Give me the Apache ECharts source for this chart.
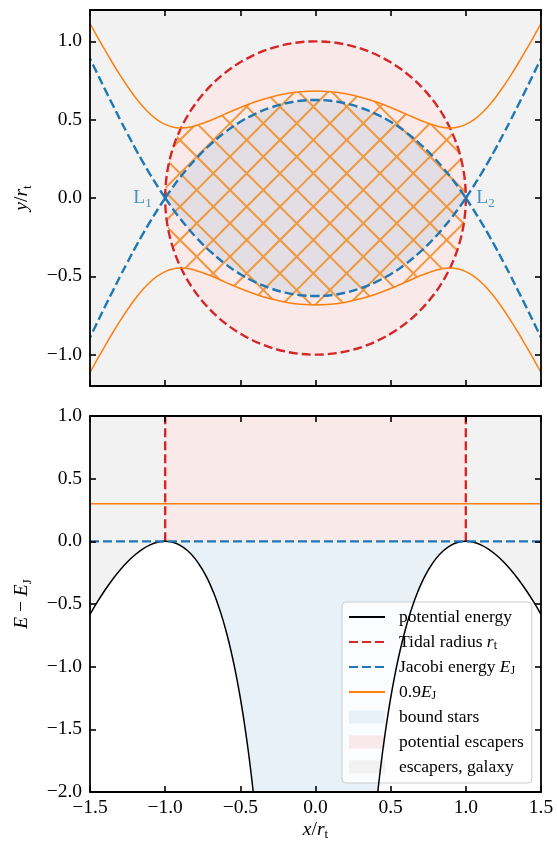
<!DOCTYPE html>
<html><head><meta charset="utf-8">
<script src="https://cdn.jsdelivr.net/npm/echarts@6/dist/echarts.min.js"></script>
<style>html,body{margin:0;padding:0;background:#fff}#c{width:557px;height:846px}</style>
</head><body><div id="c"></div>
<script>
// ---------------- data ----------------
const xTicks = [-1.5, -1.0, -0.5, 0.0, 0.5, 1.0, 1.5];
const yTicksTop = [-1.0, -0.5, 0.0, 0.5, 1.0];
const yTicksBottom = [-2.0, -1.5, -1.0, -0.5, 0.0, 0.5, 1.0];
const topRange = [-1.2, 1.2];
const bottomRange = [-2.0, 1.0];
const xRange = [-1.5, 1.5];

const tidalCenter = [0, 0];
const tidalRadius = 1.0;
const lagrangeX = [-1.0, 1.0];
const lagrangeY = [0.0, 0.0];
const lagrangeNames = ['1', '2'];
const jacobiLevel = 0.0;     // E - E_J at Jacobi energy
const level09 = 0.3;         // E - E_J at 0.9 E_J

// 0.9 E_J zero-velocity curve (top panel)
const orangeX = [-1.5,-1.45,-1.4,-1.35,-1.3,-1.25,-1.2,-1.15,-1.1,-1.05,-1.0,-0.95,-0.9,-0.85,-0.8,-0.7,-0.6,-0.5,-0.4,-0.3,-0.2,-0.1,0.0,
                 0.1,0.2,0.3,0.4,0.5,0.6,0.7,0.8,0.85,0.9,0.95,1.0,1.05,1.1,1.15,1.2,1.25,1.3,1.35,1.4,1.45,1.5];
const orangeUpperY = [1.1139,1.0275,0.9432,0.8617,0.784,0.7114,0.645,0.5863,0.5366,0.4976,0.4696,0.4531,0.4473,0.4505,0.4609,0.4951,0.5369,0.578,0.6143,0.6436,0.6648,0.6776,0.6822,
                      0.6776,0.6648,0.6436,0.6143,0.578,0.5369,0.4951,0.4609,0.4505,0.4473,0.4531,0.4696,0.4976,0.5366,0.5863,0.645,0.7114,0.784,0.8617,0.9432,1.0275,1.1139];
const orangeLowerY = [-1.1139,-1.0275,-0.9432,-0.8617,-0.784,-0.7114,-0.645,-0.5863,-0.5366,-0.4976,-0.4696,-0.4531,-0.4473,-0.4505,-0.4609,-0.4951,-0.5369,-0.578,-0.6143,-0.6436,-0.6648,-0.6776,-0.6822,
                      -0.6776,-0.6648,-0.6436,-0.6143,-0.578,-0.5369,-0.4951,-0.4609,-0.4505,-0.4473,-0.4531,-0.4696,-0.4976,-0.5366,-0.5863,-0.645,-0.7114,-0.784,-0.8617,-0.9432,-1.0275,-1.1139];

// Jacobi energy contour: inner oval
const jacobiInnerX = [-1.0,-0.95,-0.9,-0.85,-0.8,-0.75,-0.7,-0.6,-0.5,-0.4,-0.3,-0.2,-0.1,0.0,0.1,0.2,0.3,0.4,0.5,0.6,0.7,0.75,0.8,0.85,0.9,0.95,1.0];
const jacobiInnerUpperY = [0,0.0685,0.1325,0.1906,0.2455,0.2955,0.3413,0.421,0.4862,0.5375,0.5765,0.6042,0.6205,0.6258,0.6205,0.6042,0.5765,0.5375,0.4862,0.421,0.3413,0.2955,0.2455,0.1906,0.1325,0.0685,0];
const jacobiInnerLowerY = [0,-0.0685,-0.1325,-0.1906,-0.2455,-0.2955,-0.3413,-0.421,-0.4862,-0.5375,-0.5765,-0.6042,-0.6205,-0.6258,-0.6205,-0.6042,-0.5765,-0.5375,-0.4862,-0.421,-0.3413,-0.2955,-0.2455,-0.1906,-0.1325,-0.0685,0];
// Jacobi energy contour: outer branches
const jacobiOuterRightX = [1.0,1.05,1.1,1.15,1.2,1.25,1.3,1.35,1.4,1.45,1.5];
const jacobiOuterLeftX = [-1.0,-1.05,-1.1,-1.15,-1.2,-1.25,-1.3,-1.35,-1.4,-1.45,-1.5];
const jacobiOuterUpperY = [0,0.0735,0.1508,0.2325,0.3186,0.4087,0.5005,0.5965,0.6925,0.7915,0.8904];
const jacobiOuterLowerY = [0,-0.0735,-0.1508,-0.2325,-0.3186,-0.4087,-0.5005,-0.5965,-0.6925,-0.7915,-0.8904];

// potential energy along the x axis (bottom panel)
const potLeftX = [-1.5,-1.45,-1.4,-1.35,-1.3,-1.25,-1.2,-1.15,-1.1,-1.05,-1.0,-0.95,-0.9,-0.85,-0.8,-0.75,-0.725,-0.7,-0.675,-0.65,-0.625,-0.6,-0.575,-0.55,-0.525,-0.5,-0.475,-0.45,-0.4375,-0.425,-0.4142];
const potLeftY = [-0.5833,-0.4818,-0.3886,-0.304,-0.2285,-0.1625,-0.1067,-0.0616,-0.0282,-0.0073,0,-0.0078,-0.0322,-0.0754,-0.14,-0.2292,-0.2842,-0.3471,-0.4186,-0.4994,-0.5906,-0.6933,-0.8089,-0.9389,-1.0851,-1.25,-1.4361,-1.6469,-1.7628,-1.8865,-2.0];
const potRightX = [0.4142,0.425,0.4375,0.45,0.475,0.5,0.525,0.55,0.575,0.6,0.625,0.65,0.675,0.7,0.725,0.75,0.8,0.85,0.9,0.95,1.0,1.05,1.1,1.15,1.2,1.25,1.3,1.35,1.4,1.45,1.5];
const potRightY = [-2.0,-1.8865,-1.7628,-1.6469,-1.4361,-1.25,-1.0851,-0.9389,-0.8089,-0.6933,-0.5906,-0.4994,-0.4186,-0.3471,-0.2842,-0.2292,-0.14,-0.0754,-0.0322,-0.0078,0,-0.0073,-0.0282,-0.0616,-0.1067,-0.1625,-0.2285,-0.304,-0.3886,-0.4818,-0.5833];

const legendNames = ['potential energy','Tidal radius r_t','Jacobi energy E_J','0.9E_J','bound stars','potential escapers','escapers, galaxy'];
const legendRich = {
  'potential energy': 'potential energy',
  'Tidal radius r_t': 'Tidal radius {i|r}{s|t}',
  'Jacobi energy E_J': 'Jacobi energy {i|E}{s|J}',
  '0.9E_J': '0.9{i|E}{s|J}',
  'bound stars': 'bound stars',
  'potential escapers': 'potential escapers',
  'escapers, galaxy': 'escapers, galaxy'
};

// ---------------- styles ----------------
const FONT = 'Liberation Serif';
const C_BLUE = '#1f77b4', C_RED = '#d62728', C_ORANGE = '#ff7f0e', C_BLACK = '#000000';
const F_GRAY = '#f2f2f2', F_PINK = '#fae9e9', F_BLUE = '#e9f1f8', F_PURPLE = '#e3dee4', HATCH = '#f0983f';
const DASH = [9, 4];
const TICK_FS = 19.5, LEG_FS = 17.5;
const TOP = 0, BOT = 2;   // axis indices of the two panels

function rich(fs, sub, color) {
  return {
    n: {fontFamily: FONT, fontSize: fs, lineHeight: fs + 4, color: color},
    i: {fontFamily: FONT, fontSize: fs, fontStyle: 'italic', lineHeight: fs + 4, color: color},
    s: {fontFamily: FONT, fontSize: sub, lineHeight: sub, verticalAlign: 'bottom', color: color}
  };
}

function makeHatch() {
  const S = 100, n = 3, P = S / n;
  const offSlash = 20, offBack = 6.67;
  const cv = document.createElement('canvas');
  cv.width = S; cv.height = S;
  const ctx = cv.getContext('2d');
  ctx.strokeStyle = HATCH; ctx.lineWidth = 2;
  for (let k = -2 * n; k <= 3 * n; k++) {
    const a = k * P + offSlash, b = k * P + offBack;
    ctx.beginPath(); ctx.moveTo(a + 10, -10); ctx.lineTo(a - S - 10, S + 10); ctx.stroke();
    ctx.beginPath(); ctx.moveTo(b - 10, -10); ctx.lineTo(b + S + 10, S + 10); ctx.stroke();
  }
  return cv;
}
const hatchCanvas = makeHatch();

const pairs = (xs, ys) => xs.map((x, i) => [x, ys[i]]);
const fmt = v => (v < 0 ? '\u2212' : '') + Math.abs(v).toFixed(1);

function xAxis(gi, pos, showLabel, name) {
  return {
    type: 'value', gridIndex: gi, position: pos, min: xRange[0], max: xRange[1], interval: 0.5, z: 10,
    axisLine: {show: true, onZero: false, lineStyle: {color: '#000', width: 1.8}},
    axisTick: {show: true, inside: true, length: 6, lineStyle: {color: '#000', width: 1.6}, customValues: xTicks},
    axisLabel: {show: showLabel, customValues: xTicks, formatter: fmt, fontFamily: FONT, fontSize: TICK_FS, color: '#000', margin: 6},
    splitLine: {show: false},
    name: name || '', nameLocation: 'middle', nameGap: 26,
    nameTextStyle: {fontFamily: FONT, fontSize: TICK_FS, color: '#000', rich: rich(TICK_FS, 13, '#000')}
  };
}
function yAxis(gi, pos, range, ticks, showLabel, name) {
  return {
    type: 'value', gridIndex: gi, position: pos, min: range[0], max: range[1], z: 10,
    axisLine: {show: true, onZero: false, lineStyle: {color: '#000', width: 1.8}},
    axisTick: {show: true, inside: true, length: 6, lineStyle: {color: '#000', width: 1.6}, customValues: ticks},
    axisLabel: {show: showLabel, customValues: ticks, formatter: fmt, fontFamily: FONT, fontSize: TICK_FS, color: '#000', margin: 8},
    splitLine: {show: false},
    name: name || '', nameLocation: 'middle', nameGap: 56, nameRotate: 90,
    nameTextStyle: {fontFamily: FONT, fontSize: TICK_FS, color: '#000', rich: rich(TICK_FS, 13, '#000')}
  };
}

function line(name, ai, data, color, width, dashed, z, smooth) {
  return {
    type: 'line', name: name, xAxisIndex: ai, yAxisIndex: ai, data: data, symbol: 'none', showSymbol: false,
    smooth: smooth ? 0.4 : false, clip: true, z: z, silent: true, animation: false,
    lineStyle: {color: color, width: width, type: dashed ? DASH : 'solid', cap: 'butt'},
    itemStyle: {color: color}
  };
}
function poly(name, ai, ptsFn, fill, z, extraFn) {
  return {
    type: 'custom', name: name, coordinateSystem: 'cartesian2d', xAxisIndex: ai, yAxisIndex: ai,
    data: [[0, 0]], z: z, silent: true, animation: false, itemStyle: {color: fill},
    renderItem: function (params, api) {
      const el = {type: 'polygon', shape: {points: ptsFn().map(p => api.coord(p))}, style: {fill: fill}};
      if (extraFn) Object.assign(el, extraFn(api));
      return el;
    }
  };
}
function circleClip(api) {
  const c = api.coord(tidalCenter);
  const s = api.size([tidalRadius, tidalRadius]);
  return {type: 'ellipse', shape: {cx: c[0], cy: c[1], rx: s[0], ry: s[1]}};
}

// ---------------- series ----------------
const series = [];
// bottom panel lines first (legend icons come from these)
series.push(line('potential energy', BOT, pairs(potLeftX, potLeftY), C_BLACK, 1.5, false, 8, true));
series.push(line('potential energy', BOT, pairs(potRightX, potRightY), C_BLACK, 1.5, false, 8, true));
series.push(line('Tidal radius r_t', BOT, [[-tidalRadius, jacobiLevel], [-tidalRadius, bottomRange[1]]], C_RED, 2.4, true, 7, false));
series.push(line('Tidal radius r_t', BOT, [[tidalRadius, jacobiLevel], [tidalRadius, bottomRange[1]]], C_RED, 2.4, true, 7, false));
series.push(line('Jacobi energy E_J', BOT, [[xRange[0], jacobiLevel], [xRange[1], jacobiLevel]], C_BLUE, 2.4, true, 9, false));
series.push(line('0.9E_J', BOT, [[xRange[0], level09], [xRange[1], level09]], C_ORANGE, 1.5, false, 9, false));

// bottom panel fills
series.push(poly('bound stars', BOT, () => {
  const l = pairs(potLeftX, potLeftY).filter(p => p[0] >= -tidalRadius);
  const r = pairs(potRightX, potRightY).filter(p => p[0] <= tidalRadius);
  return l.concat(r);
}, F_BLUE, 1));
series.push(poly('potential escapers', BOT, () => [[-tidalRadius, jacobiLevel], [tidalRadius, jacobiLevel], [tidalRadius, bottomRange[1]], [-tidalRadius, bottomRange[1]]], F_PINK, 1));
series.push(poly('escapers, galaxy', BOT, () => {
  const l = pairs(potLeftX, potLeftY).filter(p => p[0] <= -tidalRadius);
  return l.concat([[-tidalRadius, bottomRange[1]], [xRange[0], bottomRange[1]]]);
}, F_GRAY, 1));
series.push(poly('escapers, galaxy', BOT, () => {
  const r = pairs(potRightX, potRightY).filter(p => p[0] >= tidalRadius);
  return r.concat([[xRange[1], bottomRange[1]], [tidalRadius, bottomRange[1]]]);
}, F_GRAY, 1));

// top panel: tidal circle fill
series.push({
  type: 'custom', name: 'tidal circle fill', coordinateSystem: 'cartesian2d', xAxisIndex: TOP, yAxisIndex: TOP,
  data: [[0, 0]], z: 1, silent: true, animation: false,
  renderItem: (params, api) => Object.assign(circleClip(api), {style: {fill: F_PINK}})
});
// bound region (inner Jacobi oval)
series.push(poly('bound oval', TOP, () => pairs(jacobiInnerX, jacobiInnerUpperY).concat(pairs(jacobiInnerX, jacobiInnerLowerY).reverse()), F_PURPLE, 2));
// hatched region: inside the 0.9E_J curves and inside the tidal circle
series.push(poly('hatch', TOP, () => pairs(orangeX, orangeUpperY).concat(pairs(orangeX, orangeLowerY).reverse()),
  {image: hatchCanvas, repeat: 'repeat'}, 3, api => ({clipPath: circleClip(api)})));
// tidal circle outline
series.push({
  type: 'custom', name: 'tidal circle', coordinateSystem: 'cartesian2d', xAxisIndex: TOP, yAxisIndex: TOP,
  data: [[0, 0]], z: 5, silent: true, animation: false,
  renderItem: (params, api) => Object.assign(circleClip(api), {style: {fill: null, stroke: C_RED, lineWidth: 2.4, lineDash: DASH}})
});
// 0.9 E_J curves
series.push(line('0.9 top', TOP, pairs(orangeX, orangeUpperY), C_ORANGE, 1.5, false, 6, true));
series.push(line('0.9 bottom', TOP, pairs(orangeX, orangeLowerY), C_ORANGE, 1.5, false, 6, true));
// Jacobi contour
series.push(line('J inner top', TOP, pairs(jacobiInnerX, jacobiInnerUpperY), C_BLUE, 2.4, true, 7, true));
series.push(line('J inner bottom', TOP, pairs(jacobiInnerX, jacobiInnerLowerY), C_BLUE, 2.4, true, 7, true));
series.push(line('J outer ur', TOP, pairs(jacobiOuterRightX, jacobiOuterUpperY), C_BLUE, 2.4, true, 7, true));
series.push(line('J outer lr', TOP, pairs(jacobiOuterRightX, jacobiOuterLowerY), C_BLUE, 2.4, true, 7, true));
series.push(line('J outer ul', TOP, pairs(jacobiOuterLeftX, jacobiOuterUpperY), C_BLUE, 2.4, true, 7, true));
series.push(line('J outer ll', TOP, pairs(jacobiOuterLeftX, jacobiOuterLowerY), C_BLUE, 2.4, true, 7, true));
// Lagrange point labels
series.push({
  type: 'scatter', name: 'Lagrange', xAxisIndex: TOP, yAxisIndex: TOP, symbolSize: 1, z: 12, silent: true, animation: false,
  itemStyle: {color: 'rgba(0,0,0,0)'},
  data: lagrangeX.map((x, i) => ({
    value: [x, lagrangeY[i]],
    label: {show: true, position: x < 0 ? 'left' : 'right', distance: x < 0 ? 13 : 10,
      formatter: '{n|L}{s|' + lagrangeNames[i] + '}', rich: rich(TICK_FS, 13, C_BLUE)}
  }))
});

const hiddenSymbol = {color: 'rgba(0,0,0,0)', borderColor: 'rgba(0,0,0,0)', borderWidth: 0};

const option = {
  animation: false,
  backgroundColor: '#ffffff',
  textStyle: {fontFamily: FONT},
  grid: [
    {left: 90, top: 10, width: 451, height: 376, show: true, backgroundColor: F_GRAY, borderWidth: 0},
    {left: 90, top: 416, width: 451, height: 376, show: true, backgroundColor: '#ffffff', borderWidth: 0}
  ],
  xAxis: [xAxis(0, 'bottom', false), xAxis(0, 'top', false), xAxis(1, 'bottom', true, '{i|x}{n|/}{i|r}{s|t}'), xAxis(1, 'top', false)],
  yAxis: [yAxis(0, 'left', topRange, yTicksTop, true, '{i|y}{n|/}{i|r}{s|t}'), yAxis(0, 'right', topRange, yTicksTop, false),
          yAxis(1, 'left', bottomRange, yTicksBottom, true, '{i|E}{n| \u2212 }{i|E}{s|J}'), yAxis(1, 'right', bottomRange, yTicksBottom, false)],
  legend: {
    show: true, orient: 'vertical', left: 342, top: 602,
    data: legendNames.map((n, i) => i < 4 ? {name: n, itemStyle: hiddenSymbol} : {name: n, icon: 'rect'}),
    itemWidth: 36, itemHeight: 13, itemGap: 5,
    padding: [5, 8, 6, 6],
    backgroundColor: 'rgba(255,255,255,0.8)', borderColor: '#cccccc', borderWidth: 1, borderRadius: 4,
    selectedMode: false,
    formatter: name => legendRich[name],
    textStyle: {fontFamily: FONT, fontSize: LEG_FS, color: '#000', lineHeight: 20, padding: [0, 0, 0, 9], rich: {
      i: {fontFamily: FONT, fontSize: LEG_FS, fontStyle: 'italic', lineHeight: 20, color: '#000'},
      s: {fontFamily: FONT, fontSize: 12, lineHeight: 12, verticalAlign: 'bottom', color: '#000'}
    }},
    itemStyle: {borderWidth: 0}
  },
  series: series
};
const chart = echarts.init(document.getElementById('c'), null, {renderer: 'canvas'});
chart.setOption(option);
</script></body></html>
